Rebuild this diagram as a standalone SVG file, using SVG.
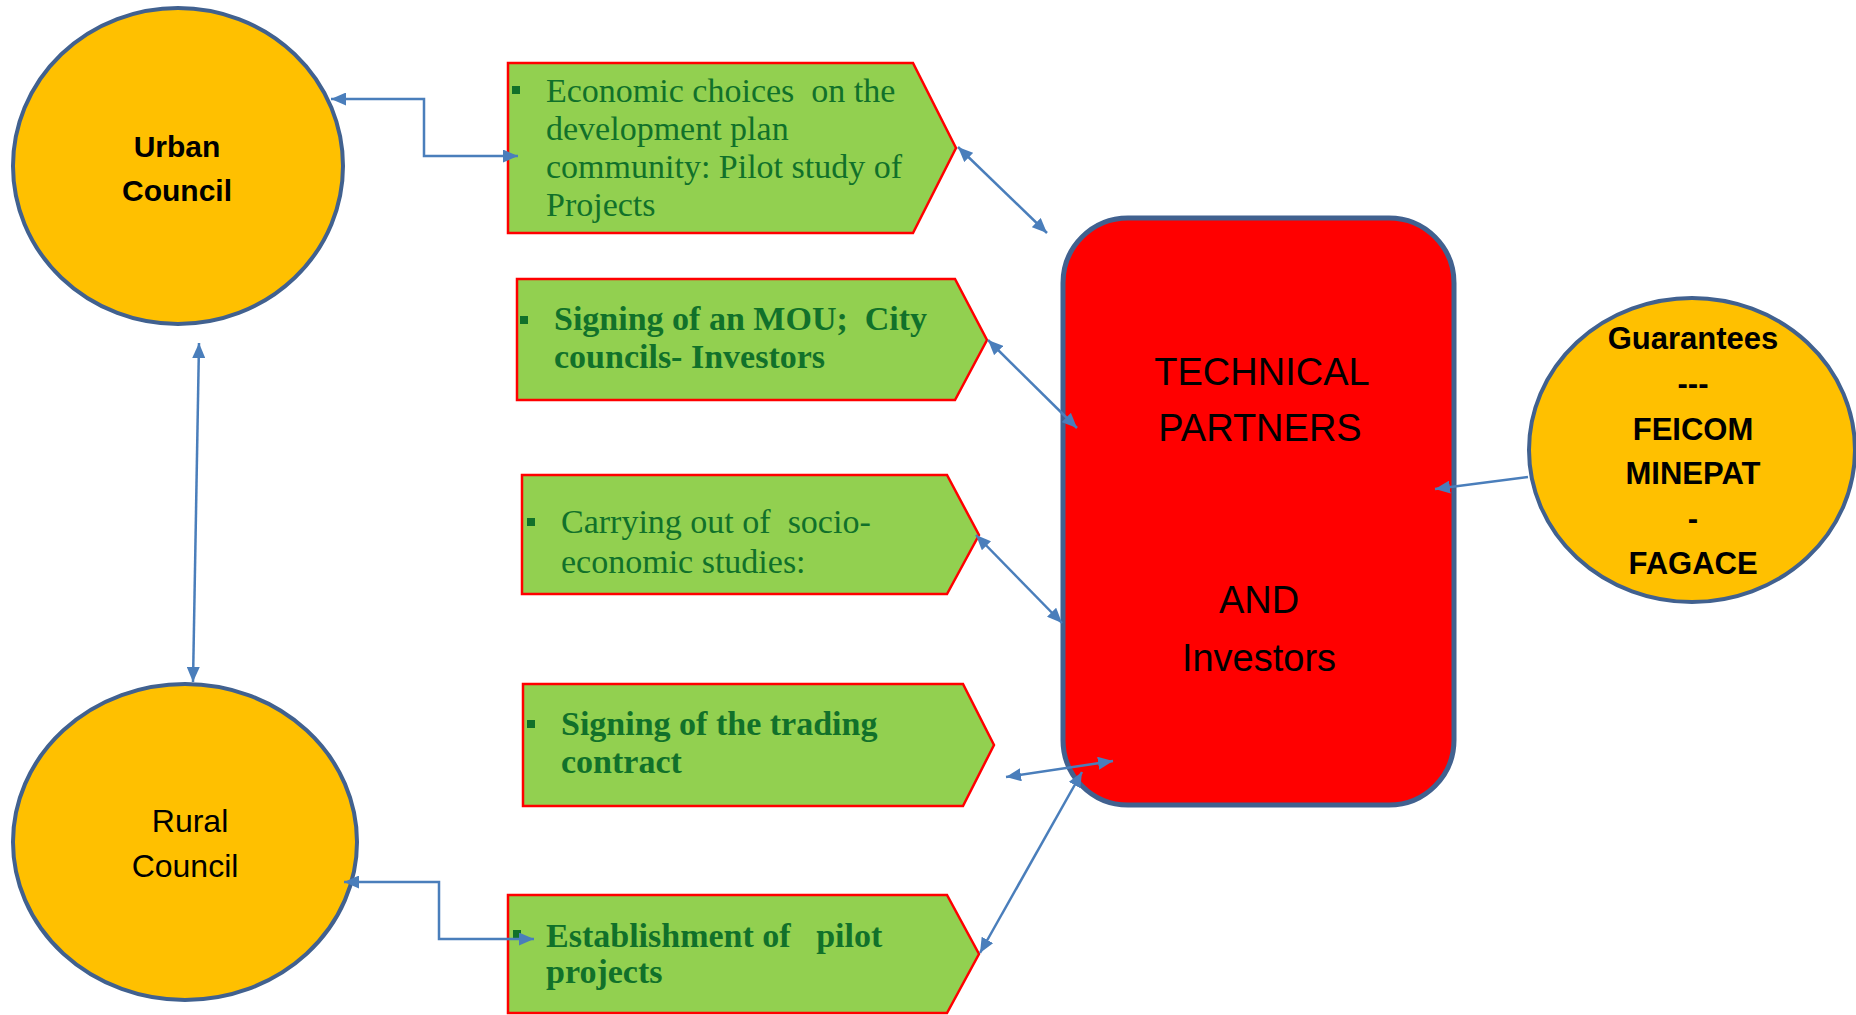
<svg xmlns="http://www.w3.org/2000/svg" width="1856" height="1015" viewBox="0 0 1856 1015">
<defs>
<marker id="ah" viewBox="0 0 15 13" refX="15" refY="6.5" markerWidth="15" markerHeight="13" markerUnits="userSpaceOnUse" orient="auto-start-reverse"><path d="M0,0 L15,6.5 L0,13 z" fill="#4A7EBB"/></marker>
<style>
.council{fill:#FFC000;stroke:#41618F;stroke-width:4}
.box{fill:#92D050;stroke:#FF0000;stroke-width:2.5}
.bt{font-family:"Liberation Serif","Times New Roman",serif;font-size:34px;fill:#11712A;white-space:pre}
.b{font-weight:bold}
.bul{fill:#11712A}
.conn{fill:none;stroke:#4A7EBB;stroke-width:2.5;marker-start:url(#ah);marker-end:url(#ah)}
.ct{font-family:"Liberation Sans",Arial,sans-serif;text-anchor:middle;fill:#000}
</style>
</defs>
<rect width="1856" height="1015" fill="#ffffff"/>

<g id="urban-council">
<ellipse class="council" cx="178" cy="166" rx="165" ry="158"/>
<text class="ct" font-size="30" font-weight="bold"><tspan x="177" y="157">Urban</tspan><tspan x="177" y="201">Council</tspan></text>
</g>

<g id="rural-council">
<ellipse class="council" cx="185" cy="842" rx="172" ry="158"/>
<text class="ct" font-size="32"><tspan x="190" y="832">Rural</tspan><tspan x="185" y="877">Council</tspan></text>
</g>

<g id="box-economic-choices">
<polygon class="box" points="508,63 913,63 956,148 913,233 508,233"/>
<rect class="bul" x="512" y="86" width="8" height="8"/>
<text class="bt"><tspan x="546" y="102">Economic choices  on the</tspan><tspan x="546" y="140">development plan</tspan><tspan x="546" y="178">community: Pilot study of</tspan><tspan x="546" y="216">Projects</tspan></text>
</g>

<g id="box-mou">
<polygon class="box" points="517,279 955,279 987,340 955,400 517,400"/>
<rect class="bul" x="520" y="316" width="8" height="8"/>
<text class="bt b"><tspan x="554" y="330">Signing of an MOU;  City</tspan><tspan x="554" y="368">councils- Investors</tspan></text>
</g>

<g id="box-socio-economic">
<polygon class="box" points="522,475 947,475 979,535 947,594 522,594"/>
<rect class="bul" x="527" y="518" width="8" height="8"/>
<text class="bt"><tspan x="561" y="533">Carrying out of  socio-</tspan><tspan x="561" y="573">economic studies:</tspan></text>
</g>

<g id="box-trading-contract">
<polygon class="box" points="523,684 963,684 994,745 963,806 523,806"/>
<rect class="bul" x="527" y="720" width="8" height="8"/>
<text class="bt b"><tspan x="561" y="735">Signing of the trading</tspan><tspan x="561" y="773">contract</tspan></text>
</g>

<g id="box-pilot-projects">
<polygon class="box" points="508,895 947,895 979,954 947,1013 508,1013"/>
<rect class="bul" x="513" y="930" width="8" height="8"/>
<text class="bt b"><tspan x="546" y="947">Establishment of   pilot</tspan><tspan x="546" y="983">projects</tspan></text>
</g>

<g id="technical-partners">
<rect x="1063" y="218" width="391" height="587" rx="65" ry="65" fill="#FF0000" stroke="#41618F" stroke-width="5"/>
<text class="ct" font-size="38"><tspan x="1262" y="385">TECHNICAL</tspan><tspan x="1260" y="441">PARTNERS</tspan><tspan x="1259" y="613">AND</tspan><tspan x="1259" y="671">Investors</tspan></text>
</g>

<g id="guarantees">
<ellipse class="council" cx="1692" cy="450" rx="163" ry="152"/>
<text class="ct" font-size="31" font-weight="bold"><tspan x="1693" y="349">Guarantees</tspan><tspan x="1693" y="394">---</tspan><tspan x="1693" y="440">FEICOM</tspan><tspan x="1693" y="484">MINEPAT</tspan><tspan x="1693" y="529">-</tspan><tspan x="1693" y="574">FAGACE</tspan></text>
</g>

<g id="connectors">
<path class="conn" d="M331,99 H424 V156 H518"/>
<path class="conn" d="M199,343 L193,682"/>
<path class="conn" d="M344,882 H439 V939 H534"/>
<path class="conn" d="M958,147 L1047,233"/>
<path class="conn" d="M988,340 L1077,428"/>
<path class="conn" d="M976,535 L1062,623"/>
<path class="conn" d="M1006,777 L1113,761"/>
<path class="conn" d="M1082,772 L980,953"/>
<path d="M1528,477 L1435,489" fill="none" stroke="#4A7EBB" stroke-width="2.5" marker-end="url(#ah)"/>
</g>
</svg>
